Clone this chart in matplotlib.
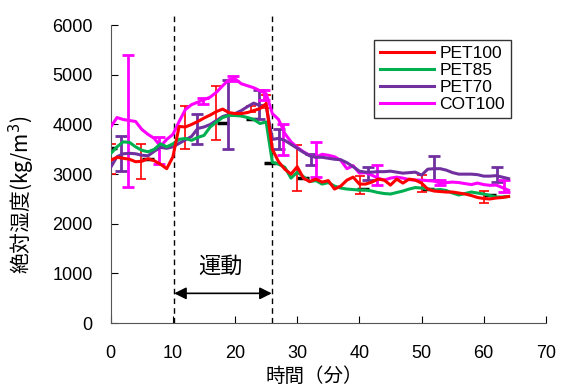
import numpy as np
import matplotlib
matplotlib.use('Agg')
import matplotlib.pyplot as plt

plt.rcParams['font.family'] = ['Liberation Sans', 'Noto Sans CJK JP', 'DejaVu Sans']

minutes = list(range(0, 65))

pet100 = [3280, 3340, 3320, 3300, 3250, 3260, 3310, 3270, 3200, 3110,
          3350, 3960, 3950, 4000, 4060, 4130, 4190, 4260, 4310, 4240,
          4220, 4220, 4240, 4280, 4320, 4420, 3500, 3250, 3100, 3000,
          3150, 2920, 2850, 2900, 2840, 2870, 2700, 2760, 2880, 2940,
          2800, 2800, 2840, 2900, 2880, 2780, 2900, 2820, 2900, 2880,
          2820, 2700, 2660, 2650, 2640, 2640, 2620, 2600, 2570, 2530,
          2510, 2500, 2520, 2530, 2550]
pet85 = [3415, 3550, 3650, 3640, 3550, 3480, 3450, 3500, 3610, 3550,
         3610, 3700, 3720, 3680, 3740, 3780, 3950, 4050, 4140, 4180,
         4180, 4170, 4140, 4100, 4020, 4050, 3240, 3200, 3140, 2920,
         3040, 2950, 2850, 2870, 2800, 2830, 2760, 2720, 2700, 2690,
         2680, 2680, 2660, 2630, 2610, 2600, 2630, 2660, 2700, 2730,
         2720, 2700, 2680, 2690, 2670, 2620, 2580, 2610, 2640, 2620,
         2600, 2570, 2540, 2540, 2550]
pet70 = [3140, 3350, 3410, 3420, 3410, 3380, 3370, 3460, 3540, 3520,
         3550, 3620, 3690, 3760, 3920, 3950, 4000, 4080, 4160, 4200,
         4220, 4280, 4360, 4430, 4380, 4380, 3700, 3720, 3680, 3600,
         3520, 3440, 3370, 3340, 3340, 3320, 3300, 3290, 3230, 3150,
         3060, 3040, 3040, 3050, 3050, 3060, 3040, 3020, 3030, 3040,
         2980, 3100, 3110, 3110, 3080, 3030, 3000, 3000, 3000, 2990,
         2960, 2960, 2970, 2940, 2910]
cot100 = [3950, 4140, 4100, 4080, 4060, 3900, 3800, 3720, 3560, 3700,
          3800, 4060, 4300, 4400, 4450, 4500, 4550, 4650, 4780, 4900,
          4920, 4820, 4780, 4740, 4680, 4620, 4220, 4100, 3820, 3650,
          3540, 3450, 3380, 3340, 3400, 3380, 3350, 3280, 3110, 3170,
          3020, 3030, 2980, 2920, 2880, 2920, 2940, 2920, 2890, 2880,
          2880, 2870, 2860, 2820, 2830, 2840, 2830, 2810, 2790, 2820,
          2790, 2775, 2780, 2730, 2675]

# error bars (time, centre, half-width)
pet100_err_t = [0, 4.8, 11.9, 16.9, 22.5, 25, 29.9, 40.1, 50, 60]
pet100_err_c = [3300, 3250, 3940, 4230, 4320, 4470, 3120, 2775, 2810, 2540]
pet100_err = [300, 355, 425, 540, 60, 130, 460, 180, 170, 120]

pet70_err_t = [1.7, 13.8, 18.9, 23.9, 27.1, 32.2, 41.4, 52, 62.1]
pet70_err_c = [3410, 3915, 4200, 4410, 3710, 3300, 3010, 3125, 2990]
pet70_err = [350, 305, 700, 290, 200, 110, 130, 250, 150]

cot100_err_t = [2.8, 7.8, 14.9, 19.7, 24.6, 27.7, 33, 42.8, 53, 63.2]
cot100_err_c = [4070, 3470, 4480, 4935, 4600, 3700, 3290, 2975, 2825, 2760]
cot100_err = [1330, 275, 60, 50, 100, 305, 350, 200, 50, 120]

pet85_err_t = [0, 6, 18, 22.7, 25.6, 31, 40.6, 51, 61]
pet85_err_c = [3520, 3300, 4020, 4120, 3220, 2920, 2700, 2700, 2580]

exercise_start, exercise_end = 10.2, 25.9

cjk = ['Noto Sans CJK JP', 'DejaVu Sans']

fig = plt.figure(figsize=(5.68, 3.87), dpi=100)
ax = fig.add_axes([0.195, 0.165, 0.766, 0.77])

ax.plot(pet85_err_t, pet85_err_c, ls='none', marker='_', color='black',
        ms=9, mew=2.5, zorder=1)
ax.errorbar(pet100_err_t, pet100_err_c, yerr=pet100_err, fmt='none',
            ecolor='#ff0000', elinewidth=1.2, capsize=3.8, capthick=1.2, zorder=2)
ax.errorbar(pet70_err_t, pet70_err_c, yerr=pet70_err, fmt='none',
            ecolor='#7030a0', elinewidth=2, capsize=4.5, capthick=2, zorder=2)
ax.errorbar(cot100_err_t, cot100_err_c, yerr=cot100_err, fmt='none',
            ecolor='#ff00ff', elinewidth=2, capsize=4.5, capthick=2, zorder=2)

ax.plot(minutes, cot100, color='#ff00ff', lw=2.2, label='COT100', zorder=3)
ax.plot(minutes, pet70, color='#7030a0', lw=2.2, label='PET70', zorder=4)
ax.plot(minutes, pet85, color='#00b050', lw=2.2, label='PET85', zorder=5)
ax.plot(minutes, pet100, color='#ff0000', lw=2.2, label='PET100', zorder=6)

for t in (exercise_start, exercise_end):
    ax.plot([t, t], [0, 6250], color='black', ls=(0, (4, 3)), lw=1, clip_on=False)

ax.annotate('', xy=(exercise_end, 600), xytext=(exercise_start, 600),
            arrowprops=dict(arrowstyle='<|-|>', color='black', lw=1.2,
                            mutation_scale=18, shrinkA=0, shrinkB=0))
ax.text(17.6, 1150, '運動', ha='center', va='center', fontsize=16, family=cjk)

ax.set_xlim(0, 70)
ax.set_ylim(0, 6000)
ax.set_xticks(range(0, 71, 10))
ax.set_yticks(range(0, 6001, 1000))
ax.tick_params(direction='in', length=5, labelsize=13, pad=13)
ax.tick_params(axis='x', pad=16)
ax.spines['top'].set_visible(False)
ax.spines['right'].set_visible(False)
ax.spines['left'].set_color('#555555')
ax.spines['bottom'].set_color('#555555')

ax.set_xlabel('時間（分）', fontsize=14, family=cjk)
ax.set_ylabel('絶対湿度(kg/m$^3$)', fontsize=15, family=cjk)
ax.xaxis.set_label_coords(0.467, -0.145)
ax.yaxis.set_label_coords(-0.17, 0.43)

handles, labels = ax.get_legend_handles_labels()
order = [3, 2, 1, 0]
leg = ax.legend([handles[i] for i in order], [labels[i] for i in order],
                loc='upper left', bbox_to_anchor=(0.606, 0.95), fontsize=12.5,
                frameon=True, fancybox=False, edgecolor='black', handlelength=3.1,
                handletextpad=0.3, borderpad=0.35, labelspacing=0.1, borderaxespad=0)
leg.get_frame().set_linewidth(1)

fig.savefig('out.png', dpi=100)
